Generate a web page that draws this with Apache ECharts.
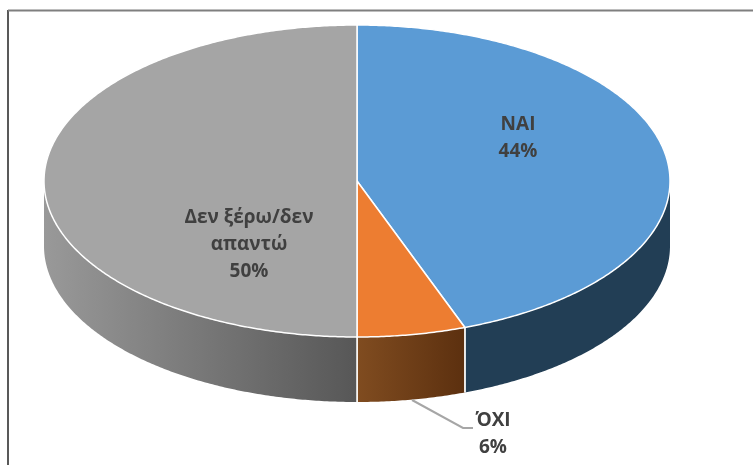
<!DOCTYPE html>
<html>
<head>
<meta charset="utf-8">
<style>html,body{margin:0;padding:0;background:#fff}#c{width:753px;height:465px}</style>
<script src="https://cdn.jsdelivr.net/npm/echarts@6/dist/echarts.min.js"></script>
</head>
<body>
<div id="c"></div>
<script>
// Data
var categories = ['ΝΑΙ', 'ΌΧΙ', 'Δεν ξέρω/δεν απαντώ'];
var labelLines = [['ΝΑΙ'], ['ΌΧΙ'], ['Δεν ξέρω/δεν', 'απαντώ']];
var values = [44.4, 5.6, 50];

// Styling and layout
var topColors = ['#5b9bd5', '#ed7d31', '#a5a5a5'];
var wallGradients = [
  ['#223e55', '#223e55'],
  ['#804c20', '#5c300f'],
  ['#999999', '#575757']
];
var labelCenters = [[518, 125], [493, 421], [249, 218]];
var LINE_HEIGHT = 27;
var PIE = { cx: 357, cy: 181, rx: 313, ry: 156, depth: 65 };
var FONT = 'bold 19px "Open Sans", sans-serif';
var TEXT_COLOR = '#404040';

var total = values.reduce(function (a, b) { return a + b; }, 0);

function pointAt(deg, dy) {
  var r = deg * Math.PI / 180;
  return [PIE.cx + PIE.rx * Math.sin(r), PIE.cy - PIE.ry * Math.cos(r) + (dy || 0)];
}
function arcPoints(a, b, dy) {
  var pts = [], n = Math.max(2, Math.ceil(Math.abs(b - a) * 2));
  for (var i = 0; i <= n; i++) pts.push(pointAt(a + (b - a) * i / n, dy));
  return pts;
}

function renderSlice(params, api) {
  var idx = params.dataIndex;
  var before = 0;
  for (var i = 0; i < idx; i++) before += values[i];
  var value = api.value(0);
  var start = before / total * 360;
  var end = (before + value) / total * 360;
  var children = [];

  // Side wall: only the part facing the viewer (90deg to 270deg)
  var wa = Math.max(start, 90), wb = Math.min(end, 270);
  if (wb > wa) {
    var topEdge = arcPoints(wa, wb, 0);
    var bottomEdge = arcPoints(wa, wb, PIE.depth).reverse();
    var xs = topEdge.map(function (p) { return p[0]; });
    var xMin = Math.min.apply(null, xs), xMax = Math.max.apply(null, xs);
    var g = wallGradients[idx];
    children.push({
      type: 'polygon',
      shape: { points: topEdge.concat(bottomEdge) },
      style: {
        fill: {
          type: 'linear', global: true, x: xMin, y: 0, x2: xMax, y2: 0,
          colorStops: [{ offset: 0, color: g[0] }, { offset: 1, color: g[1] }]
        }
      }
    });
    [wa, wb].forEach(function (t) {
      if (t > 90 && t < 270) {
        var p = pointAt(t, 0), q = pointAt(t, PIE.depth);
        children.push({
          type: 'line',
          shape: { x1: p[0], y1: p[1], x2: q[0], y2: q[1] },
          style: { stroke: '#ffffff', lineWidth: 1.5 }
        });
      }
    });
  }

  // Top face
  children.push({
    type: 'polygon',
    z2: 10,
    shape: { points: [[PIE.cx, PIE.cy]].concat(arcPoints(start, end, 0)) },
    style: { fill: topColors[idx], stroke: '#ffffff', lineWidth: 1.5, lineJoin: 'round' }
  });

  // Label text
  var lines = labelLines[idx].concat([Math.round(value / total * 100) + '%']);
  lines.forEach(function (t, i) {
    children.push({
      type: 'text',
      z2: 20,
      style: {
        text: t, x: labelCenters[idx][0], y: labelCenters[idx][1] + i * LINE_HEIGHT,
        font: FONT, fill: TEXT_COLOR, align: 'center', verticalAlign: 'middle'
      }
    });
  });
  return { type: 'group', children: children };
}

var chart = echarts.init(document.getElementById('c'), null, { renderer: 'canvas' });
chart.setOption({
  animation: false,
  backgroundColor: '#ffffff',
  graphic: [
    { type: 'line', shape: { x1: 8, y1: 10, x2: 8, y2: 465 }, style: { stroke: '#222222', lineWidth: 1.5 } },
    { type: 'line', shape: { x1: 8, y1: 10.5, x2: 753, y2: 10.5 }, style: { stroke: '#7f7f7f', lineWidth: 2 } },
    { type: 'polyline', z: 5, shape: { points: [[412, 400], [463, 428], [473, 428]] }, style: { stroke: '#a6a6a6', lineWidth: 2, fill: null } }
  ],
  series: [{
    type: 'custom',
    coordinateSystem: 'none',
    renderItem: renderSlice,
    data: values.map(function (v, i) { return { name: categories[i], value: [v] }; })
  }]
});
</script>
</body>
</html>
